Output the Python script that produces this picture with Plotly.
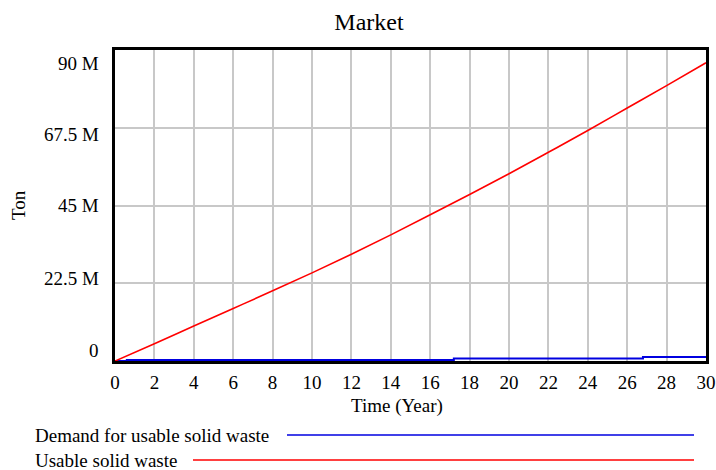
import plotly.graph_objects as go

# ---------------- data ----------------
time_years = [0, 2, 4, 6, 8, 10, 12, 14, 16, 18, 20, 22, 24, 26, 28, 30]
usable_solid_waste = [0, 5.0e6, 10.1e6, 15.2e6, 20.3e6, 25.5e6, 30.9e6, 36.5e6,
                      42.3e6, 48.2e6, 54.2e6, 60.4e6, 66.7e6, 73.2e6, 79.7e6, 86.3e6]

demand_time = [0, 0.6, 17.2, 26.8, 30]
demand_usable_solid_waste = [0, 0.3e6, 0.7e6, 1.15e6, 1.15e6]

series_names = ["Demand for usable solid waste", "Usable solid waste"]
x_ticks = list(range(0, 31, 2))
y_ticks = [0, 22.5e6, 45e6, 67.5e6, 90e6]
y_tick_labels = ["0", "22.5 M", "45 M", "67.5 M", "90 M"]
title_text = "Market"
x_title = "Time (Year)"
y_title = "Ton"

# ---------------- layout geometry (pixels) ----------------
W, H = 716, 470
L, R, T, B = 115, 706, 50, 361
FONT = "Liberation Serif, Times New Roman, serif"
BLUE = "#0000e0"
RED = "#ff0000"


def px_x(px):
    return (px - L) / (R - L)


def px_y(py):
    return (B - py) / (B - T)


fig = go.Figure()
fig.add_trace(go.Scatter(x=demand_time, y=demand_usable_solid_waste, mode="lines",
                         line=dict(color=BLUE, width=2, shape="hv"),
                         name=series_names[0], showlegend=False))
fig.add_trace(go.Scatter(x=time_years, y=usable_solid_waste, mode="lines",
                         line=dict(color=RED, width=1.6, shape="spline"),
                         name=series_names[1], showlegend=False))

fig.update_layout(
    width=W, height=H,
    margin=dict(l=L, r=W - R, t=T, b=H - B, pad=0, autoexpand=False),
    paper_bgcolor="white", plot_bgcolor="white",
    font=dict(family=FONT, size=19, color="black"),
    title=dict(text=title_text, x=369 / W, xref="container", xanchor="center",
               y=1 - 22 / H, yref="container", yanchor="middle",
               font=dict(family=FONT, size=24, color="black")),
    showlegend=False,
)

fig.update_xaxes(range=[0, 30], tickvals=x_ticks, showgrid=True, automargin=False,
                 gridcolor="#c8c8c8", gridwidth=1.8, zeroline=False,
                 showline=True, linecolor="black", linewidth=3, mirror=True,
                 ticks="", ticklabelstandoff=2,
                 tickfont=dict(family=FONT, size=19, color="black"))
fig.update_yaxes(range=[0, 90e6], tickvals=y_ticks, showticklabels=False, automargin=False,
                 showgrid=True, gridcolor="#c8c8c8", gridwidth=1.8, zeroline=False,
                 showline=True, linecolor="black", linewidth=3, mirror=True, ticks="")

# y tick labels (Vensim-style, spread inside the plot height)
label_offsets = [11, 5, 0, -7, -13]  # pixels upward from gridline
for v, lab, off in zip(y_ticks, y_tick_labels, label_offsets):
    fig.add_annotation(x=0, xref="paper", xanchor="right", xshift=-14,
                       y=v, yref="y", yanchor="middle", yshift=off,
                       text=lab, showarrow=False,
                       font=dict(family=FONT, size=19, color="black"))

# axis titles
fig.add_annotation(x=px_x(397), xref="paper", y=px_y(406), yref="paper",
                   xanchor="center", yanchor="middle", text=x_title, showarrow=False,
                   font=dict(family=FONT, size=19, color="black"))
fig.add_annotation(x=px_x(18), xref="paper", y=px_y(205), yref="paper",
                   xanchor="center", yanchor="middle", text=y_title, textangle=-90,
                   showarrow=False, font=dict(family=FONT, size=19, color="black"))

# Vensim-style legend below the chart
legend_rows = [(435, 287, BLUE), (460, 193, RED)]
for name, (py, line_start, col) in zip(series_names, legend_rows):
    fig.add_annotation(x=px_x(33), xref="paper", y=px_y(py), yref="paper",
                       xanchor="left", yanchor="middle", text=name, showarrow=False,
                       font=dict(family=FONT, size=19, color="black"))
    fig.add_shape(type="line", xref="paper", yref="paper",
                  x0=px_x(line_start), x1=px_x(694), y0=px_y(py), y1=px_y(py),
                  line=dict(color=col, width=1.6))

fig.write_html("out.html")
